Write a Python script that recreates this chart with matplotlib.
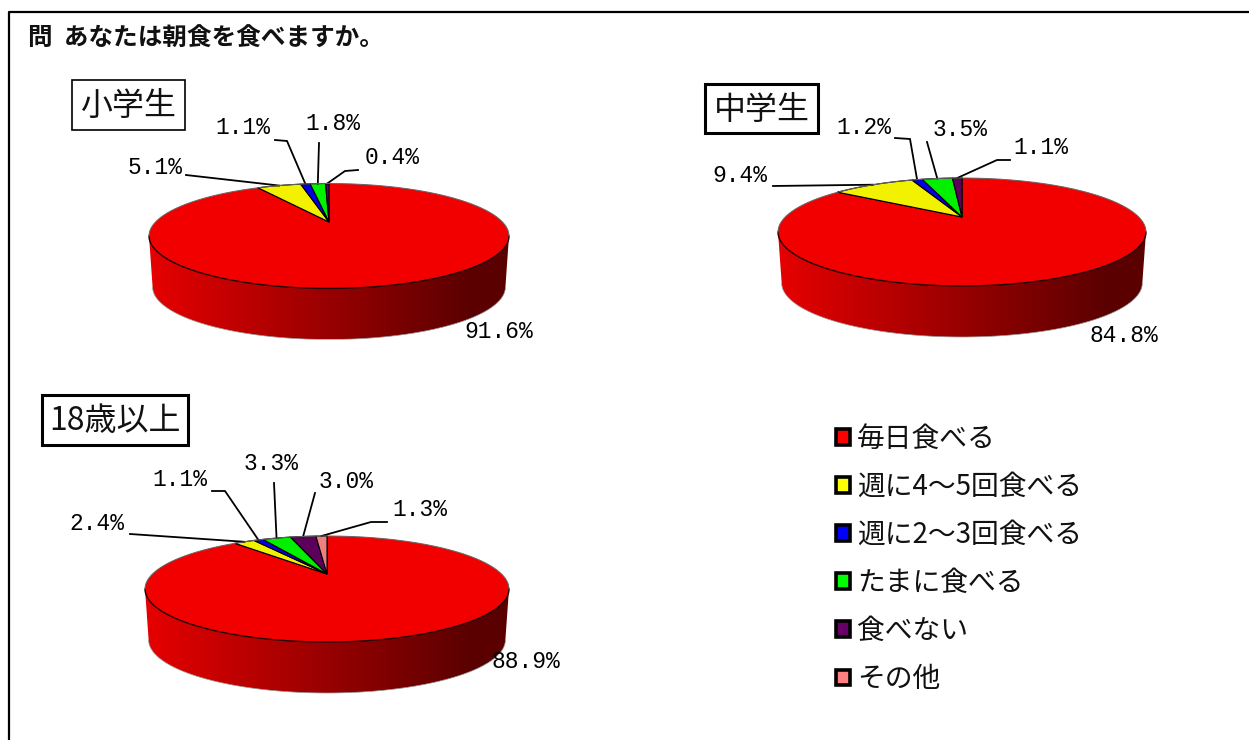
#!/usr/bin/env python3

import numpy as np
import matplotlib
matplotlib.use('Agg')
import matplotlib.pyplot as plt
from matplotlib.colors import LinearSegmentedColormap
from matplotlib.patches import Patch, Polygon, Rectangle

plt.rcParams['font.family'] = ['Noto Sans CJK JP', 'DejaVu Sans']

title = '問  あなたは朝食を食べますか。'
categories = ['毎日食べる', '週に4～5回食べる', '週に2～3回食べる', 'たまに食べる', '食べない', 'その他']
groups = ['小学生', '中学生', '18歳以上']

# same order as categories, clockwise from 12 o'clock
values_elem = [91.6, 5.1, 1.1, 1.8, 0.4, 0.0]
values_junior = [84.8, 9.4, 1.2, 3.5, 1.1, 0.0]
values_adult = [88.9, 2.4, 1.1, 3.3, 3.0, 1.3]

colors = ['#f20000', '#f2f200', '#0000e6', '#00f000', '#5c005c', '#f08080']
legend_colors = ['#ff0000', '#ffff00', '#0000ff', '#00ff00', '#660066', '#ff8080']

side_cmap = LinearSegmentedColormap.from_list(
    'side', [(0, '#e60000'), (0.9, '#5a0000'), (1, '#5a0000')])

# layout, all in pixels of the 1249x740 picture
# cx, cy, a, b, apex offset, depth
pie_geom = [(329, 236, 180, 52.5, 14, 51),
            (962, 232, 184, 54, 15, 51),
            (327, 589, 182, 53, 15, 51)]
box_geom = [(72, 80, 113, 50, 1.2), (705, 84, 113, 49, 2.2), (42, 395, 146, 50, 2.2)]
# per category: label x, label y, then leader points before the rim (None = no leader)
label_pos = [
    [(499, 331, None), (155, 167, [(186, 175)]), (243, 128, [(275, 140), (287, 141)]),
     (333, 123, [(319, 143)]), (392, 158, [(358, 170), (345, 171)]), None],
    [(1124, 335, None), (740, 175, [(773, 186)]), (864, 127, [(895, 138), (910, 139)]),
     (960, 130, [(927, 142)]), (1041, 148, [(1010, 160), (997, 160)]), None],
    [(526, 662, None), (97, 523, [(130, 534)]), (180, 480, [(212, 491), (225, 491)]),
     (271, 464, [(274, 483)]), (346, 482, [(315, 493)]), (420, 509, [(387, 522), (371, 522)])],
]


def rim(theta, geom):
    # perspective view of a circle: the apex sits above the middle of the ellipse
    cx, cy, a, b, off, depth = geom
    v0 = off / b
    den = 1 + v0 * np.cos(theta)
    u = np.sin(theta) * np.sqrt(1 - v0 * v0) / den
    v = (np.cos(theta) + v0) / den
    return cx + a * u, cy - b * v


def draw_pie(ax, values, geom, labels):
    cx, cy, a, b, off, depth = geom
    # side wall with the gradient
    t = np.linspace(0, np.pi, 200)
    top_x = cx + a * np.cos(t)
    top_y = cy + b * np.sin(t)
    bot_x = cx + 0.98 * a * np.cos(t)
    bot_y = cy + depth + b * np.sin(t)
    pts = np.column_stack([np.r_[top_x, bot_x[::-1]], np.r_[top_y, bot_y[::-1]]])
    side = Polygon(pts, closed=True, facecolor='none', edgecolor='none')
    ax.add_patch(side)
    im = ax.imshow(np.linspace(0, 1, 256).reshape(1, -1), cmap=side_cmap, aspect='auto',
                   extent=(cx - a, cx + a, cy + depth + b, cy), zorder=2)
    im.set_clip_path(side)
    ax.plot(bot_x, bot_y, color='#999999', lw=0.5, zorder=3)

    # top face
    total = sum(values)
    start = 0.0
    for i, val in enumerate(values):
        if val == 0:
            continue
        end = start + val / total * 2 * np.pi
        th = np.linspace(start, end, 200)
        x, y = rim(th, geom)
        apex = (cx, cy - off)
        poly = np.column_stack([np.r_[apex[0], x], np.r_[apex[1], y]])
        ax.add_patch(Polygon(poly, closed=True, facecolor=colors[i],
                             edgecolor='none' if i == 0 else 'black',
                             lw=0.8, zorder=4 if i == 0 else 5))
        if i == 0:
            # the two straight edges of the big slice
            ax.plot([x[0], apex[0], x[-1]], [y[0], apex[1], y[-1]], color='black', lw=0.8, zorder=5)

        lab = labels[i]
        if lab is not None:
            ax.text(lab[0], lab[1], str(val) + '%', family=['Liberation Mono'], fontsize=16.5,
                    ha='center', va='center', color='black', zorder=7)
            if lab[2] is not None:
                ex, ey = rim(np.array([(start + end) / 2]), geom)
                xs = [p[0] for p in lab[2]] + [ex[0]]
                ys = [p[1] for p in lab[2]] + [ey[0]]
                ax.plot(xs, ys, color='black', lw=1.3, zorder=6, solid_joinstyle='miter')
        start = end

    ax.plot(top_x, top_y, color='#220000', lw=1.0, zorder=6)
    ax.plot(top_x, 2 * cy - top_y, color='#666666', lw=0.7, zorder=6)


fig = plt.figure(figsize=(12.49, 7.40), dpi=100)
ax = fig.add_axes([0, 0, 1, 1])

# frame of the page, open at the right and bottom
ax.plot([9, 9, 1249], [740, 12, 12], color='black', lw=1.6, zorder=1)
ax.text(28, 39, title, fontsize=17.7, fontweight='bold', ha='left', va='center', color='#111111')

all_values = [values_elem, values_junior, values_adult]
for i in range(len(groups)):
    draw_pie(ax, all_values[i], pie_geom[i], label_pos[i])
    x, y, w, h, lw = box_geom[i]
    ax.add_patch(Rectangle((x, y), w, h, facecolor='white', edgecolor='black', lw=lw, zorder=8))
    ax.text(x + w / 2, y + h / 2 + 1, groups[i], fontsize=23, ha='center',
            va='center', color='#111111', zorder=9)

handles = [Patch(facecolor=c, edgecolor='black', lw=2.6, joinstyle='round', label=n)
           for c, n in zip(legend_colors, categories)]
ax.legend(handles=handles, loc='upper left', bbox_to_anchor=(836, 424), bbox_transform=ax.transData,
          frameon=False, handlelength=0.5, handleheight=0.5, handletextpad=0.25,
          borderpad=0, borderaxespad=0, labelspacing=0.65, labelcolor='#111111',
          prop={'family': ['Noto Sans CJK JP', 'DejaVu Sans'], 'size': 20})

ax.set_xlim(0, 1249)
ax.set_ylim(740, 0)
ax.axis('off')
fig.savefig('out.png', dpi=100, facecolor='white')
